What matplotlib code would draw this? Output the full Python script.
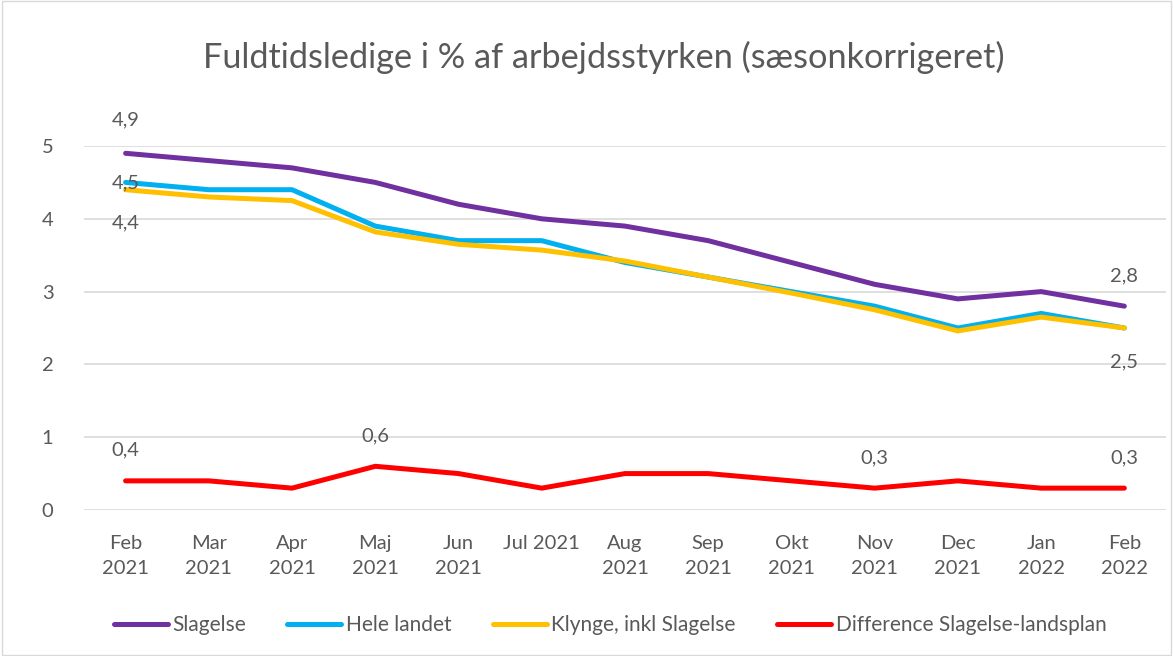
import matplotlib
matplotlib.use("Agg")
import matplotlib.pyplot as plt
from matplotlib.patches import Rectangle

plt.rcParams['font.family'] = ['Lato', 'DejaVu Sans']

months = ["Feb\n2021", "Mar\n2021", "Apr\n2021", "Maj\n2021", "Jun\n2021", "Jul 2021",
          "Aug\n2021", "Sep\n2021", "Okt\n2021", "Nov\n2021", "Dec\n2021", "Jan\n2022", "Feb\n2022"]
slagelse = [4.9, 4.8, 4.7, 4.5, 4.2, 4.0, 3.9, 3.7, 3.4, 3.1, 2.9, 3.0, 2.8]
hele_landet = [4.5, 4.4, 4.4, 3.9, 3.7, 3.7, 3.4, 3.2, 3.0, 2.8, 2.5, 2.7, 2.5]
klynge = [4.4, 4.3, 4.25, 3.82, 3.65, 3.57, 3.42, 3.2, 2.98, 2.75, 2.46, 2.65, 2.5]
difference = [0.4, 0.4, 0.3, 0.6, 0.5, 0.3, 0.5, 0.5, 0.4, 0.3, 0.4, 0.3, 0.3]

text_col = "#595959"
x = list(range(len(months)))

fig = plt.figure(figsize=(11.73, 6.56), dpi=100)
ax = fig.add_axes([0.0716, 0.2226, 0.9224, 0.5548])

ax.plot(x, slagelse, color="#7030A0", lw=3.6, solid_capstyle="round", label="Slagelse", clip_on=False)
ax.plot(x, hele_landet, color="#00B0F0", lw=3.6, solid_capstyle="round", label="Hele landet", clip_on=False)
ax.plot(x, klynge, color="#FFC000", lw=3.6, solid_capstyle="round", label="Klynge, inkl Slagelse", clip_on=False)
ax.plot(x, difference, color="#FF0000", lw=3.6, solid_capstyle="round",
        label="Difference Slagelse-landsplan", clip_on=False)

def fmt(v):
    return f"{v:.1f}".replace(".", ",")

lab = dict(color=text_col, fontsize=14.5, ha="center")
ax.annotate(fmt(slagelse[0]), (0, slagelse[0]), xytext=(0, 18), textcoords="offset points", va="bottom", **lab)
ax.annotate(fmt(hele_landet[0]), (0, hele_landet[0]), xytext=(0, 0), textcoords="offset points", va="center", **lab)
ax.annotate(fmt(klynge[0]), (0, klynge[0]), xytext=(0, -18), textcoords="offset points", va="top", **lab)
ax.annotate(fmt(slagelse[-1]), (12, slagelse[-1]), xytext=(0, 16), textcoords="offset points", va="bottom", **lab)
ax.annotate(fmt(klynge[-1]), (12, klynge[-1]), xytext=(0, -18), textcoords="offset points", va="top", **lab)
for i in [0, 3, 9, 12]:
    ax.annotate(fmt(difference[i]), (i, difference[i]), xytext=(0, 16), textcoords="offset points",
                va="bottom", **lab)

ax.set_xlim(-0.5, 12.5)
ax.set_ylim(0, 5)
ax.set_yticks([0, 1, 2, 3, 4, 5])
ax.set_yticklabels(["0", "1", "2", "3", "4", "5"])
ax.set_xticks(x)
ax.set_xticklabels(months, linespacing=1.6)
ax.tick_params(axis="both", length=0, labelsize=14.5, labelcolor=text_col)
ax.tick_params(axis="y", pad=22)
ax.tick_params(axis="x", pad=18)
ax.grid(axis="y", color="#D9D9D9", lw=1.2)
ax.set_axisbelow(True)
for s in ax.spines.values():
    s.set_visible(False)

fig.text(0.515, 0.913, "Fuldtidsledige i % af arbejdsstyrken (sæsonkorrigeret)", ha="center", va="center",
         fontsize=24.7, color=text_col)

handles, labels = ax.get_legend_handles_labels()
fig.legend(handles, labels, loc="center", bbox_to_anchor=(0.52, 0.047), ncol=4, frameon=False,
           fontsize=15, labelcolor=text_col, handlelength=2.6, handletextpad=0.2, columnspacing=2.0)

fig.patches.append(Rectangle((0.002, 0.002), 0.996, 0.996, transform=fig.transFigure,
                             fill=False, edgecolor="#D9D9D9", lw=1))

fig.savefig("out.png", dpi=100)
